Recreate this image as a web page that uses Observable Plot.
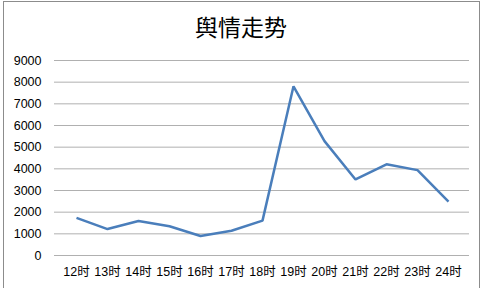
<!DOCTYPE html>
<html>
<head>
<meta charset="utf-8">
<script src="https://cdn.jsdelivr.net/npm/d3@7"></script>
<script src="https://cdn.jsdelivr.net/npm/@observablehq/plot@0.6"></script>
<style>
  html, body { margin: 0; padding: 0; background: #fff; }
  #wrap { position: relative; width: 484px; height: 288px; overflow: hidden; }
  #frame { position: absolute; left: 3px; top: 1px; width: 477px; height: 300px; border: 1px solid #8c8c8c; box-sizing: border-box; }
  #title { position: absolute; left: 0; top: 11px; width: 482px; text-align: center; font-family: "Noto Sans CJK SC", sans-serif; font-size: 23px; color: #000; line-height: 30px; }
  #chart { position: absolute; left: 0; top: 0; }
</style>
</head>
<body>
<div id="wrap">
  <div id="chart"></div>
  <div id="frame"></div>
  <div id="title">舆情走势</div>
</div>
<script>
const hours = ["12时","13时","14时","15时","16时","17时","18时","19时","20时","21时","22时","23时","24时"];
const counts = [1740, 1220, 1590, 1350, 900, 1140, 1610, 7810, 5280, 3510, 4210, 3940, 2490];
const yTicks = [0, 1000, 2000, 3000, 4000, 5000, 6000, 7000, 8000, 9000];

const data = hours.map((h, i) => ({hour: h, value: counts[i]}));

const chart = Plot.plot({
  width: 484,
  height: 288,
  marginTop: 60,
  marginBottom: 33,
  marginLeft: 54,
  marginRight: 15,
  style: {fontFamily: "'Liberation Sans', 'Noto Sans CJK SC', sans-serif", fontSize: "12px", color: "#000", background: "transparent"},
  x: {type: "point", domain: hours, padding: 0.5, label: null},
  y: {domain: [0, 9000], label: null},
  marks: [
    Plot.gridY(yTicks, {stroke: "#b0b0b0", strokeOpacity: 1, strokeWidth: 1}),
    Plot.ruleX([0], {x: () => null, frameAnchor: "left", stroke: "#9a9a9a"}),
    Plot.axisY(yTicks, {tickSize: 0, tickPadding: 13, fontSize: 12.5, fill: "#000", tickFormat: d => String(d)}),
    Plot.axisX({tickSize: 0, tickPadding: 12, fontSize: 12.5, fill: "#000"}),
    Plot.line(data, {x: "hour", y: "value", stroke: "#4a7ebb", strokeWidth: 2.5, strokeLinejoin: "miter", strokeLinecap: "butt"})
  ]
});
document.getElementById("chart").appendChild(chart);
</script>
</body>
</html>
